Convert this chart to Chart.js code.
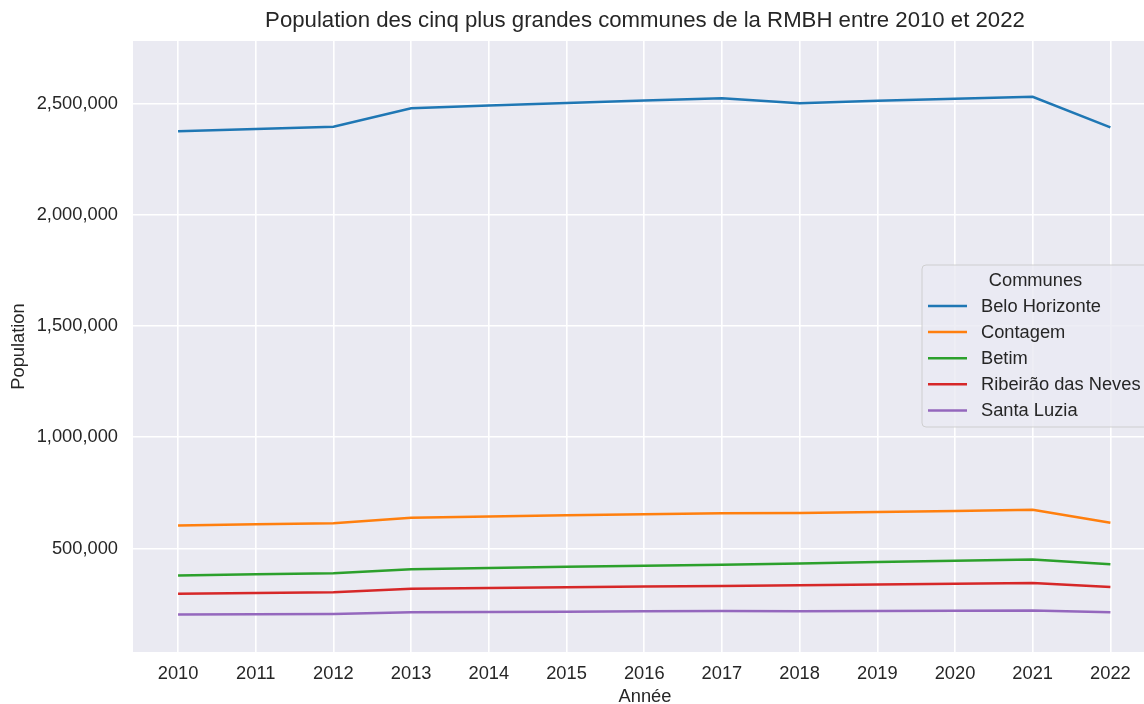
<!DOCTYPE html>
<html>
<head>
<meta charset="utf-8">
<script src="https://cdn.jsdelivr.net/npm/chart.js@4.4.1/dist/chart.umd.min.js"></script>
<style>
html,body{margin:0;padding:0;background:#fff;overflow:hidden;width:1144px;height:704px;}
#wrap{width:1157px;height:704px;}
</style>
</head>
<body>
<div id="wrap"><canvas id="c" width="1157" height="704"></canvas></div>
<script>
const years = [2010, 2011, 2012, 2013, 2014, 2015, 2016, 2017, 2018, 2019, 2020, 2021, 2022];
const communes = ["Belo Horizonte", "Contagem", "Betim", "Ribeirão das Neves", "Santa Luzia"];
const beloHorizonte = [2375151, 2385639, 2395785, 2479165, 2491109, 2502557, 2513451, 2523794, 2501576, 2512070, 2521564, 2530701, 2392678];
const contagem = [603442, 608650, 613815, 637961, 643476, 648766, 653800, 658580, 659070, 663855, 668949, 673849, 616000];
const betim = [378089, 384000, 388873, 406474, 412003, 417307, 422354, 427146, 432575, 439340, 444784, 450024, 429000];
const ribeiraoDasNeves = [296317, 299728, 302980, 319310, 322659, 325846, 328871, 331045, 334858, 338197, 341415, 344519, 327000];
const santaLuzia = [202942, 204000, 205000, 213345, 214800, 216000, 217300, 218900, 217900, 219100, 220400, 221700, 213000];
const yTicks = [500000, 1000000, 1500000, 2000000, 2500000];
const colors = ["#1f77b4", "#ff7f0e", "#2ca02c", "#d62728", "#9467bd"];
const seriesList = [beloHorizonte, contagem, betim, ribeiraoDasNeves, santaLuzia];

const FONT = "'Liberation Sans', Arial, sans-serif";
const TXT = "#262626";

const datasets = seriesList.map((s, i) => ({
  label: communes[i],
  data: years.map((y, j) => ({x: y, y: s[j]})),
  borderColor: colors[i],
  backgroundColor: colors[i],
  borderWidth: 2.5,
  pointRadius: 0,
  tension: 0,
  fill: false
}));

const bgPlugin = {
  id: 'bg',
  beforeDraw(chart) {
    const {ctx, chartArea: a} = chart;
    ctx.save();
    ctx.fillStyle = '#eaeaf2';
    ctx.fillRect(a.left, a.top, a.right - a.left, a.bottom - a.top);
    ctx.restore();
  }
};

const legendPlugin = {
  id: 'customLegend',
  afterDatasetsDraw(chart) {
    const ctx = chart.ctx;
    const x0 = 922, y0 = 265, w = 227, h = 162, r = 4;
    ctx.save();
    ctx.beginPath();
    ctx.roundRect(x0, y0, w, h, r);
    ctx.fillStyle = 'rgba(234,234,242,0.8)';
    ctx.fill();
    ctx.strokeStyle = 'rgba(204,204,204,0.9)';
    ctx.lineWidth = 1;
    ctx.stroke();
    ctx.font = "18.3px " + FONT;
    ctx.fillStyle = TXT;
    ctx.textBaseline = 'middle';
    ctx.textAlign = 'center';
    ctx.fillText("Communes", x0 + w / 2, y0 + 16);
    ctx.textAlign = 'left';
    chart.data.datasets.forEach((ds, i) => {
      const yy = y0 + 41 + i * 26.1;
      ctx.strokeStyle = ds.borderColor;
      ctx.lineWidth = 2.5;
      ctx.beginPath();
      ctx.moveTo(x0 + 6, yy);
      ctx.lineTo(x0 + 45, yy);
      ctx.stroke();
      ctx.fillStyle = TXT;
      ctx.fillText(ds.label, x0 + 59, yy + 1);
    });
    ctx.restore();
  }
};

new Chart(document.getElementById('c'), {
  type: 'line',
  data: {datasets},
  options: {
    responsive: false,
    devicePixelRatio: 1,
    animation: false,
    layout: {padding: 0},
    plugins: {
      legend: {display: false},
      tooltip: {enabled: false},
      title: {
        display: true,
        fullSize: false,
        text: "Population des cinq plus grandes communes de la RMBH entre 2010 et 2022",
        color: TXT,
        font: {family: FONT, size: 22.2, weight: 'normal', lineHeight: 1.2},
        padding: {top: 8, bottom: 6.4},
        align: 'center'
      }
    },
    scales: {
      x: {
        type: 'linear',
        min: 2009.42,
        max: 2022.6,
        afterBuildTicks: (scale) => { scale.ticks = years.map(v => ({value: v})); },
        afterFit: (scale) => { scale.height = 52; },
        ticks: {
          color: TXT,
          font: {family: FONT, size: 18.3},
          padding: 10.5,
          maxRotation: 0,
          autoSkip: false,
          callback: (v) => String(v)
        },
        grid: {color: '#ffffff', lineWidth: 1.6, drawTicks: false},
        border: {display: false},
        title: {
          display: true,
          text: 'Année',
          color: TXT,
          font: {family: FONT, size: 18.3, lineHeight: 0.8},
          padding: {top: 0, bottom: 0}
        }
      },
      y: {
        type: 'linear',
        min: 34600,
        max: 2781000,
        afterBuildTicks: (scale) => { scale.ticks = yTicks.map(v => ({value: v})); },
        afterFit: (scale) => { scale.width = 133; },
        ticks: {
          color: TXT,
          font: {family: FONT, size: 18.3},
          padding: 15,
          callback: (v) => v.toLocaleString('en-US')
        },
        grid: {color: '#ffffff', lineWidth: 1.6, drawTicks: false},
        border: {display: false},
        title: {
          display: true,
          text: 'Population',
          color: TXT,
          font: {family: FONT, size: 18.3, lineHeight: 1.2},
          padding: {top: 8, bottom: 0}
        }
      }
    }
  },
  plugins: [bgPlugin, legendPlugin]
});
</script>
</body>
</html>
